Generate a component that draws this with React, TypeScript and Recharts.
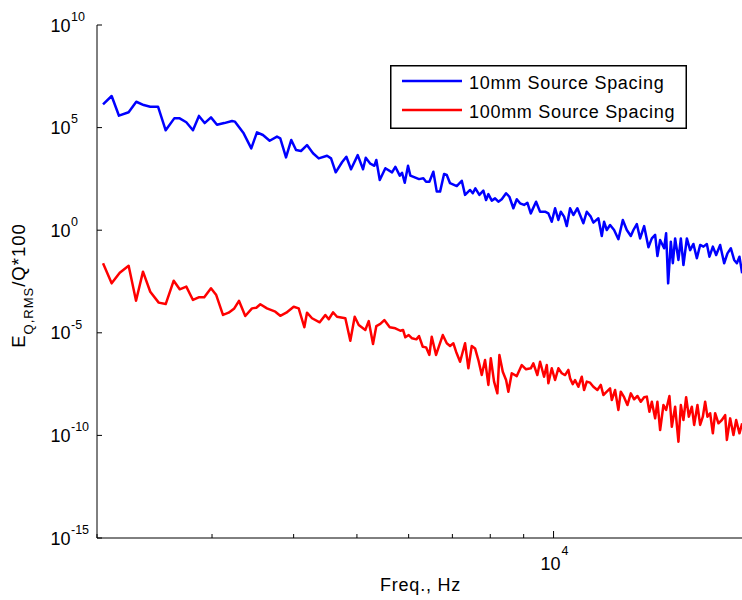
import React from 'react';
import { LineChart, Line, XAxis, YAxis, Legend } from 'recharts';

// ---- data (frequency in Hz, value as log10 of E_Q,RMS/Q*100) ----
const blueFreq = [
  2043, 2106, 2161, 2236, 2297, 2358, 2413, 2480, 2548, 2626, 2677, 2740, 2805, 2865, 2923, 2989,
  3053, 3132, 3219, 3253, 3354, 3445, 3515, 3590, 3676, 3772, 3816, 3894, 3967, 4034, 4105, 4193,
  4283, 4370, 4500, 4564, 4640, 4744, 4817, 4897, 5014, 5109, 5158, 5242, 5317, 5354, 5419, 5527,
  5659, 5725, 5815, 5862, 5918, 5987, 6036, 6144, 6224,
  6319, 6380, 6455, 6546, 6625, 6703, 6798, 6863, 6943, 7109, 7236, 7320, 7451, 7522, 7591, 7699,
  7808, 7883, 7947, 8043, 8137, 8232, 8331, 8459, 8558, 8679, 8784, 8886, 9013, 9118, 9228, 9402,
  9536, 9705, 9819, 9937, 10054, 10171, 10258, 10378, 10477, 10600, 10724, 10876, 10980, 11109,
  11242, 11402, 11507, 11712, 11853, 11950, 12064, 12205, 12379, 12568, 12765, 12946, 13131, 13252,
  13411, 13569, 13761, 13972, 14140, 14306, 14422, 14560, 14767, 14871, 14977, 15120, 15227, 15351,
  15531, 15663, 15807, 15998, 16185, 16374, 16572, 16766, 16962, 17166, 17325, 17534, 17739, 17991,
  18247, 18460, 18683, 18902, 19082, 19258, 19442,
];
const blueLog10 = [
  6.13, 6.54, 5.58, 5.75, 6.26, 6.1, 6.02, 6.02, 4.87, 5.45, 5.45, 5.26, 4.87, 5.57, 5.22, 5.5,
  5.14, 5.22, 5.32, 5.29, 4.72, 3.99, 4.77, 4.64, 4.36, 4.56, 4.48, 3.55, 4.4, 3.91, 3.86, 4.15,
  3.75, 3.5, 3.63, 3.5, 2.82, 3.31, 3.58, 2.97, 3.66, 2.97, 3.53, 3.24, 3.14, 3.42, 2.45, 3.02,
  2.82, 3.09, 2.66, 2.8, 2.31, 3.14, 2.66, 2.56, 2.49,
  2.53, 2.36, 2.36, 2.85, 1.88, 1.88, 2.74, 2.69, 2.29, 2.15, 2.41, 1.72, 1.96, 1.8, 2.04, 1.72,
  1.93, 1.47, 1.76, 1.44, 1.55, 1.39, 1.51, 1.8, 1.63, 1.07, 1.51, 1.31, 1.23, 1.34, 0.82, 1.39,
  0.9, 0.9, 0.82, 0.41, 1.07, 0.5, 0.9, 0.66, 0.2, 1.07, 0.74, 1.07, 0.74, 0.34,
  0.9, 0.66, 0.37, 0.58, -0.28, 0.41, 0.01, 0.25, 0.01, -0.44, 0.5, 0.01, -0.28, 0.01,
  0.3, -0.4, 0.2, -0.83, -0.4, -0.23, -1.26, -0.48, -0.88, -0.15, -2.59, -0.56, -1.61, -0.4,
  -1.45, -0.4, -1.7, -0.4, -0.97, -0.67, -1.37, -0.72, -0.8, -0.67, -1.29, -0.8, -1.21, -0.72,
  -1.61, -1.13, -0.88, -1.45, -1.61, -1.29, -2.1,
];
const redFreq = [
  2043, 2106, 2167, 2236, 2295, 2352, 2413, 2486, 2548, 2621, 2677, 2740, 2805, 2862, 2919, 2989,
  3045, 3118, 3181, 3245, 3299, 3373, 3454, 3507, 3557, 3641, 3750, 3816, 3898, 4001, 4072, 4154,
  4193, 4268, 4385, 4473, 4527, 4596, 4661, 4800, 4885, 4961, 5032, 5150, 5212, 5292, 5354, 5430,
  5507, 5613, 5725, 5827, 5883, 5930, 6002, 6073, 6165, 6224,
  6306, 6380, 6455, 6509, 6609, 6686, 6767, 6863, 6943, 7025, 7092, 7193, 7320, 7406, 7495, 7583,
  7672, 7764, 7855, 7947, 8015, 8108, 8203, 8262, 8361, 8459, 8527, 8630, 8784, 8940, 9076, 9228,
  9313, 9445, 9536, 9671, 9764, 9819, 9937, 10054, 10171, 10294, 10414, 10536, 10600, 10701,
  10788, 10914, 11046, 11136, 11242, 11374, 11507, 11671, 11811, 11920, 12064, 12205, 12279, 12422,
  12568, 12674, 12823, 12974, 13131, 13285, 13440, 13602, 13761, 13893, 14021, 14140, 14306, 14422,
  14560, 14731, 14871, 15046, 15173, 15351, 15531, 15663, 15807, 15958, 16111, 16282, 16415, 16607,
  16766, 16926, 17064, 17203, 17368, 17534, 17676, 17884, 18100, 18312, 18422, 18637, 18855, 19036,
  19258, 19442,
];
const redLog10 = [
  -1.61, -2.59, -2.07, -1.73, -3.44, -2.02, -3.0, -3.53, -3.6, -2.46, -2.88, -2.75, -3.4, -3.27, -3.27, -2.83,
  -3.16, -4.13, -4.02, -3.81, -3.44, -4.18, -3.81, -3.78, -3.61, -3.81, -3.97, -4.17, -4.02, -3.73, -3.81, -4.73,
  -4.02, -4.29, -4.49, -4.13, -4.34, -4.0, -4.22, -4.29, -5.39, -4.22, -4.62, -4.86, -4.43, -5.55, -4.67, -4.57,
  -4.38, -4.73, -4.78, -4.9, -4.86, -5.22, -5.11, -5.27, -5.32, -5.16,
  -5.68, -5.71, -6.08, -5.19, -6.08, -5.6, -5.11, -5.51, -5.64, -5.51, -5.92, -6.41, -5.51, -6.73, -5.64, -5.76,
  -6.33, -7.06, -6.33, -7.54, -6.24, -7.38, -7.95, -6.08, -6.9, -7.3, -7.87, -6.97, -7.11, -6.57, -6.78, -6.73,
  -6.49, -7.06, -6.41, -7.14, -6.57, -7.46, -6.73, -7.3, -6.73, -6.97, -7.06, -6.81, -7.22, -7.5,
  -7.3, -7.63, -7.14, -7.79, -7.38, -7.43, -7.63, -7.79, -7.54, -8.03, -7.87, -7.71, -8.28, -7.79,
  -8.76, -7.87, -8.14, -8.52, -7.95, -8.24, -8.08, -8.36, -8.14, -8.11, -8.85, -8.36, -9.17, -8.36,
  -9.74, -8.52, -8.76, -8.08, -9.58, -8.6, -10.31, -8.52, -9.25, -8.14, -9.09, -8.6, -9.49, -8.52,
  -9.49, -9.09, -8.36, -9.09, -8.92, -9.9, -8.92, -9.41, -9.25, -9.01, -10.22, -9.17, -9.98, -9.25,
  -9.9, -9.41,
];

const seriesNames = ['10mm Source Spacing', '100mm Source Spacing'];
const seriesColors = ['#0000ff', '#ff0000'];
const xDomain = [2000, 19500];
const xTicks = [2000, 3000, 4000, 5000, 6000, 7000, 8000, 9000, 10000];
const xLabelledTicks = [10000];
const yDomain = [-15, 10];
const yTicks = [-15, -10, -5, 0, 5, 10];
const xAxisTitle = 'Freq., Hz';

const blueData = blueFreq.map((f, i) => ({ f, v: blueLog10[i] }));
const redData = redFreq.map((f, i) => ({ f, v: redLog10[i] }));

const FONT = '"Liberation Sans", Arial, Helvetica, sans-serif';

const BottomTick = (props: any) => {
  const { x, y, payload } = props;
  const labelled = xLabelledTicks.includes(payload.value);
  const exp = Math.round(Math.log10(payload.value));
  return (
    <g>
      <line x1={x} x2={x} y1={y} y2={y - (labelled ? 7 : 4)} stroke="#000" strokeWidth={1} />
      {labelled && (
        <g fontFamily={FONT} fill="#000">
          <text x={x + 7} y={y + 32} fontSize={18} textAnchor="end">10</text>
          <text x={x + 8} y={y + 17} fontSize={12.5} textAnchor="start">{exp}</text>
        </g>
      )}
      {labelled && (
        <text x={x - 133} y={y + 53} fontSize={18} letterSpacing={0.8} textAnchor="middle" fontFamily={FONT} fill="#000">
          {xAxisTitle}
        </text>
      )}
    </g>
  );
};

const TopTick = (props: any) => {
  const { x, y, payload } = props;
  const labelled = xLabelledTicks.includes(payload.value);
  return <line x1={x} x2={x} y1={y} y2={y + (labelled ? 7 : 4)} stroke="#000" strokeWidth={1} />;
};

const LeftTick = (props: any) => {
  const { x, y, payload } = props;
  return (
    <g fontFamily={FONT} fill="#000">
      <line x1={x} x2={x + 5} y1={y} y2={y} stroke="#000" strokeWidth={1} />
      <text x={x - 26.5} y={y + 6.5} fontSize={18} textAnchor="end">10</text>
      <text x={x - 26} y={y - 4.3} fontSize={12.5} textAnchor="start">{String(payload.value)}</text>
    </g>
  );
};

const RightTick = (props: any) => {
  const { x, y } = props;
  return <line x1={x} x2={x - 5} y1={y} y2={y} stroke="#000" strokeWidth={1} />;
};

const YTitle = (props: any) => {
  const vb = props.viewBox || { x: 0, y: 25, width: 97, height: 513 };
  const cy = vb.y + vb.height / 2 + 4;
  return (
    <text
      transform={`translate(25, ${cy}) rotate(-90)`}
      x={0}
      y={0}
      textAnchor="middle"
      fontFamily={FONT}
      fontSize={18.5}
      letterSpacing={1}
      fill="#000"
    >
      E
      <tspan fontSize={13} dy={8}>Q,RMS</tspan>
      <tspan dy={-8}>/Q*100</tspan>
    </text>
  );
};

const LegendBox = (props: any) => {
  const raw = props.payload && props.payload.length
    ? props.payload
    : seriesNames.map((n, i) => ({ value: n, color: seriesColors[i] }));
  const items = [...raw].sort((a: any, b: any) => seriesNames.indexOf(a.value) - seriesNames.indexOf(b.value));
  return (
    <svg width={297} height={64} style={{ display: 'block' }}>
      <rect x={0.75} y={0.75} width={295.5} height={62.5} fill="#fff" stroke="#000" strokeWidth={1.5} />
      {items.map((e: any, i: number) => (
        <g key={i}>
          <line x1={12} x2={72} y1={16 + 29 * i} y2={16 + 29 * i} stroke={e.color} strokeWidth={2.5} />
          <text x={79} y={24 + 29 * i} fontSize={18} letterSpacing={0.7} fontFamily={FONT} fill="#000">
            {e.value}
          </text>
        </g>
      ))}
    </svg>
  );
};

export default function App() {
  return (
    <div style={{ position: 'absolute', left: 0, top: 0, width: 742, height: 600, overflow: 'hidden', background: '#fff' }}>
      <LineChart width={745} height={600} margin={{ top: 25, right: 2, bottom: 0, left: 0 }}>
        <XAxis
          xAxisId="b"
          type="number"
          dataKey="f"
          scale="log"
          domain={xDomain}
          allowDataOverflow
          ticks={xTicks}
          interval={0}
          height={62}
          tickSize={0}
          tickMargin={0}
          tickLine={false}
          axisLine={{ stroke: '#000', strokeWidth: 1 }}
          tick={<BottomTick />}
        />
        <XAxis
          xAxisId="t"
          orientation="top"
          type="number"
          dataKey="f"
          scale="log"
          domain={xDomain}
          allowDataOverflow
          ticks={xTicks}
          interval={0}
          height={0}
          tickSize={0}
          tickMargin={0}
          tickLine={false}
          axisLine={{ stroke: '#000', strokeWidth: 1 }}
          tick={<TopTick />}
        />
        <YAxis
          yAxisId="l"
          type="number"
          domain={yDomain}
          allowDataOverflow
          ticks={yTicks}
          interval={0}
          width={97}
          tickSize={0}
          tickMargin={0}
          tickLine={false}
          axisLine={{ stroke: '#000', strokeWidth: 1 }}
          tick={<LeftTick />}
          label={{ content: <YTitle /> }}
        />
        <YAxis
          yAxisId="r"
          orientation="right"
          type="number"
          domain={yDomain}
          allowDataOverflow
          ticks={yTicks}
          interval={0}
          width={0}
          tickSize={0}
          tickMargin={0}
          tickLine={false}
          axisLine={{ stroke: '#000', strokeWidth: 1 }}
          tick={<RightTick />}
        />
        <Legend
          layout="vertical"
          align="center"
          verticalAlign="middle"
          wrapperStyle={{ position: 'absolute', left: 390, top: 65, width: 297, height: 64, margin: 0, padding: 0 }}
          content={<LegendBox />}
        />
        <Line
          xAxisId="b"
          yAxisId="l"
          data={blueData}
          dataKey="v"
          name={seriesNames[0]}
          type="linear"
          stroke={seriesColors[0]}
          strokeWidth={2.5}
          strokeLinejoin="round"
          dot={false}
          activeDot={false}
          isAnimationActive={false}
        />
        <Line
          xAxisId="b"
          yAxisId="l"
          data={redData}
          dataKey="v"
          name={seriesNames[1]}
          type="linear"
          stroke={seriesColors[1]}
          strokeWidth={2.5}
          strokeLinejoin="round"
          dot={false}
          activeDot={false}
          isAnimationActive={false}
        />
      </LineChart>
    </div>
  );
}
